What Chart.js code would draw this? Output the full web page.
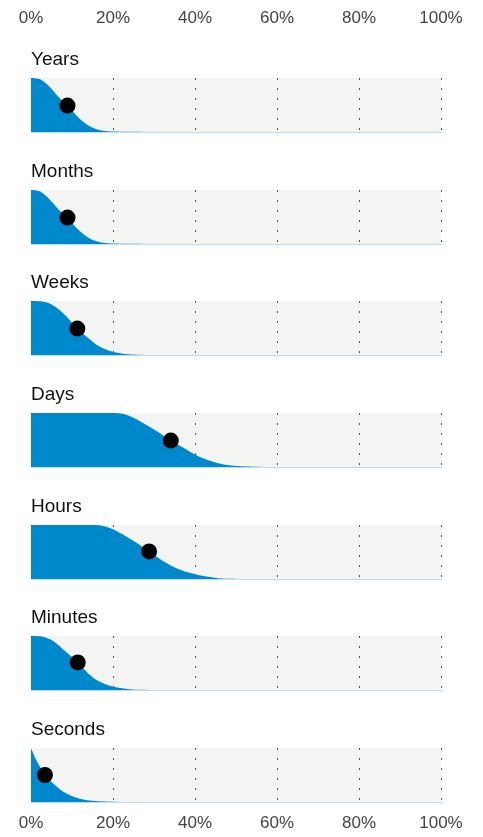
<!DOCTYPE html>
<html><head><meta charset="utf-8">
<script src="https://cdn.jsdelivr.net/npm/chart.js@4.4.1/dist/chart.umd.min.js"></script>
<style>
html,body{margin:0;padding:0;background:#fff;}
#wrap{position:relative;width:483px;height:837px;overflow:hidden;background:#fff;}
canvas{position:absolute;left:0;}
</style></head><body><div id="wrap"></div>
<script>
// ---- data ----
const tickValues = [0, 20, 40, 60, 80, 100];
const tickLabels = ['0%', '20%', '40%', '60%', '80%', '100%'];
const categories = ['Years', 'Months', 'Weeks', 'Days', 'Hours', 'Minutes', 'Seconds'];

const yearsX   = [0, 1, 2.2, 4.2, 6.7, 8.9, 10.7, 12.8, 14.8, 17.2, 20, 24, 28, 100];
const yearsY   = [1, 0.995, 0.975, 0.86, 0.65, 0.49, 0.34, 0.185, 0.09, 0.03, 0.01, 0.003, 0, 0];
const monthsX  = [0, 1, 2.2, 4.2, 6.7, 8.9, 10.7, 12.8, 14.8, 17.2, 20, 24, 28, 100];
const monthsY  = [1, 0.995, 0.97, 0.85, 0.64, 0.49, 0.33, 0.18, 0.085, 0.03, 0.01, 0.003, 0, 0];
const weeksX   = [0, 2, 3.4, 5.9, 8.3, 11.3, 14, 16.4, 19.3, 22.9, 26, 30, 100];
const weeksY   = [1, 0.995, 0.98, 0.895, 0.74, 0.49, 0.31, 0.17, 0.074, 0.02, 0.005, 0, 0];
const daysX    = [0, 20, 22.9, 27, 31, 34.1, 37.6, 40.8, 44, 47.3, 51.4, 55, 59, 100];
const daysY    = [1, 1, 0.975, 0.83, 0.65, 0.49, 0.34, 0.2, 0.105, 0.043, 0.013, 0.004, 0, 0];
const hoursX   = [0, 15.6, 19.7, 22.9, 26.2, 28.8, 32.7, 35.9, 39.2, 42.4, 45.7, 49, 53, 100];
const hoursY   = [1, 1, 0.93, 0.8, 0.65, 0.51, 0.31, 0.185, 0.105, 0.05, 0.015, 0.004, 0, 0];
const minutesX = [0, 2, 3.4, 5.9, 8.3, 11.4, 14.8, 18, 21.3, 24, 27, 31, 100];
const minutesY = [1, 0.995, 0.975, 0.88, 0.72, 0.51, 0.25, 0.11, 0.04, 0.015, 0.004, 0, 0];
const secondsX = [0, 1, 2.2, 3.4, 5.9, 8.3, 10.7, 14.8, 18, 22, 100];
const secondsY = [1, 0.82, 0.65, 0.5, 0.31, 0.17, 0.09, 0.025, 0.008, 0, 0];

const dotX = [8.9, 8.9, 11.3, 34.1, 28.8, 11.4, 3.4];
const dotY = [0.49, 0.49, 0.49, 0.49, 0.51, 0.51, 0.5];

const curvesX = [yearsX, monthsX, weeksX, daysX, hoursX, minutesX, secondsX];
const curvesY = [yearsY, monthsY, weeksY, daysY, hoursY, minutesY, secondsY];

// ---- style ----
const FONT = "'Liberation Sans', Arial, Helvetica, sans-serif";
const BLUE = '#0088cc';
const BG = '#f4f4f3';
const PAD_L = 31, PAD_R = 42;

const bgPlugin = {
  id: 'bandBg',
  beforeDraw(chart, args, opts) {
    if (!opts || !opts.color) return;
    const {ctx, chartArea: a} = chart;
    ctx.save();
    ctx.fillStyle = opts.color;
    ctx.fillRect(a.left, a.top, a.right - a.left, a.bottom - a.top);
    ctx.restore();
  }
};
Chart.register(bgPlugin);

const wrap = document.getElementById('wrap');
function makeCanvas(top, h) {
  const c = document.createElement('canvas');
  c.width = 483; c.height = h;
  c.style.top = top + 'px';
  c.style.width = '483px'; c.style.height = h + 'px';
  wrap.appendChild(c);
  return c;
}

function axisChart(top, h, position, padTop, padBottom) {
  const c = makeCanvas(top, h);
  new Chart(c, {
    type: 'scatter',
    data: {datasets: []},
    options: {
      responsive: false, animation: false,
      layout: {autoPadding: false, padding: {left: PAD_L, right: PAD_R, top: padTop, bottom: padBottom}},
      plugins: {legend: {display: false}, tooltip: {enabled: false}},
      scales: {
        x: {
          type: 'linear', position: position, min: 0, max: 100,
          grid: {display: false, drawTicks: false}, border: {display: false},
          afterBuildTicks: s => { s.ticks = tickValues.map(v => ({value: v})); },
          ticks: {
            padding: 0, maxRotation: 0, minRotation: 0, autoSkip: false,
            color: '#444', font: {family: FONT, size: 17},
            callback: v => tickLabels[tickValues.indexOf(v)]
          }
        },
        y: {display: false, min: 0, max: 1}
      }
    }
  });
}

// top axis (tall canvas so the axis is not squeezed; its chart area stays empty)
axisChart(0, 60, 'top', 8, 0);

// panels
const BAND_TOP0 = 78, STEP = 111.67, BAND_H = 54;
categories.forEach((name, i) => {
  const bandTop = Math.round(BAND_TOP0 + i * STEP);
  const c = makeCanvas(bandTop - 34, 34 + BAND_H + 4);
  const pts = curvesX[i].map((x, k) => ({x: x, y: curvesY[i][k]}));
  new Chart(c, {
    type: 'line',
    data: {
      datasets: [
        {
          type: 'scatter', data: [{x: dotX[i], y: dotY[i]}],
          pointRadius: 8, pointBackgroundColor: '#000', pointBorderWidth: 0,
          clip: false, order: 0
        },
        {
          type: 'line', data: pts,
          borderWidth: 0, borderColor: BLUE, backgroundColor: BLUE,
          fill: 'start', pointRadius: 0, cubicInterpolationMode: 'monotone',
          order: 1
        }
      ]
    },
    options: {
      responsive: false, animation: false,
      layout: {autoPadding: false, padding: {left: PAD_L, right: PAD_R, top: 0, bottom: 4}},
      plugins: {
        legend: {display: false}, tooltip: {enabled: false},
        bandBg: {color: BG},
        title: {
          display: true, text: name, align: 'start', color: '#111',
          font: {family: FONT, size: 19, weight: 'normal', lineHeight: 1.2},
          padding: {top: 4, bottom: 7.2}
        }
      },
      scales: {
        x: {
          type: 'linear', min: 0, max: 100,
          afterBuildTicks: s => { s.ticks = tickValues.map(v => ({value: v})); },
          ticks: {display: false},
          grid: {
            drawTicks: false, lineWidth: 1,
            color: ctx => (ctx.tick && ctx.tick.value === 0) ? 'rgba(0,0,0,0)' : '#555'
          },
          border: {display: true, color: '#bcdcef', width: 1, dash: [2, 8]}
        },
        y: {display: false, min: 0, max: 1}
      }
    }
  });
});

// bottom axis
axisChart(780, 57, 'bottom', 0, 3.5);
</script>
</body></html>
